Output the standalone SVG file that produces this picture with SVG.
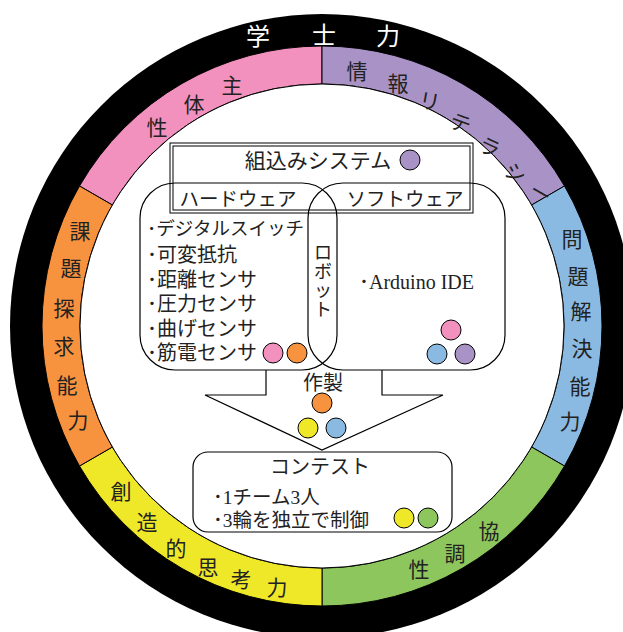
<svg xmlns="http://www.w3.org/2000/svg" width="623" height="632" viewBox="0 0 623 632">
<style>
.seg{stroke:#000;stroke-width:1}
.rc{font-family:"Noto Sans CJK JP",sans-serif;font-size:21px;fill:#222;text-anchor:middle;dominant-baseline:central}
.t{font-family:"Liberation Serif","Noto Sans CJK JP",serif;font-size:19px;fill:#222}
.tc{text-anchor:middle}
.li{font-size:20px}
.ln{fill:none;stroke:#000;stroke-width:1.2}
.dot{stroke:#000;stroke-width:1}
</style>
<rect width="623" height="632" fill="#fff"/>
<g id="ring">
<circle cx="322" cy="326" r="312" fill="#000"/>
<g id="title"><text class="rc" x="258" y="34" style="fill:#fff;font-size:24px">学</text><text class="rc" x="324" y="33" style="fill:#fff;font-size:24px">士</text><text class="rc" x="388" y="34" style="fill:#fff;font-size:24px">力</text></g>
<path class="seg" fill="#F291BE" d="M79.51,186 A280,280 0 0 1 322,46 L322,84 A242,242 0 0 0 112.42,205 Z"/>
<path class="seg" fill="#A992C5" d="M322,46 A280,280 0 0 1 564.49,186 L531.58,205 A242,242 0 0 0 322,84 Z"/>
<path class="seg" fill="#8ABAE1" d="M564.49,186 A280,280 0 0 1 564.49,466 L531.58,447 A242,242 0 0 0 531.58,205 Z"/>
<path class="seg" fill="#8CC65C" d="M564.49,466 A280,280 0 0 1 322,606 L322,568 A242,242 0 0 0 531.58,447 Z"/>
<path class="seg" fill="#EFE829" d="M322,606 A280,280 0 0 1 79.51,466 L112.42,447 A242,242 0 0 0 322,568 Z"/>
<path class="seg" fill="#F7923F" d="M79.51,466 A280,280 0 0 1 79.51,186 L112.42,205 A242,242 0 0 0 112.42,447 Z"/>
<circle cx="322" cy="326" r="242" fill="#fff" stroke="#000" stroke-width="1"/>
</g>
<g id="seg-pink"><text class="rc" x="157" y="126">性</text><text class="rc" x="194" y="103">体</text><text class="rc" x="232" y="84">主</text></g>
<g id="seg-purple"><text class="rc" x="357" y="70">情</text><text class="rc" x="398" y="82">報</text><text class="rc" x="430" y="100" transform="rotate(10 430 100)">リ</text><text class="rc" x="461" y="122" transform="rotate(20 461 122)">テ</text><text class="rc" x="490" y="146" transform="rotate(25 490 146)">ラ</text><text class="rc" x="516" y="172" transform="rotate(30 516 172)">シ</text><text class="rc" x="541" y="192" transform="rotate(30 541 192)">ー</text></g>
<g id="seg-blue"><text class="rc" x="572" y="238">問</text><text class="rc" x="578" y="275">題</text><text class="rc" x="581" y="310">解</text><text class="rc" x="582" y="347">決</text><text class="rc" x="580" y="385">能</text><text class="rc" x="570" y="420">力</text></g>
<g id="seg-orange"><text class="rc" x="80" y="230">課</text><text class="rc" x="71" y="267">題</text><text class="rc" x="64" y="307">探</text><text class="rc" x="64" y="345">求</text><text class="rc" x="67" y="384">能</text><text class="rc" x="78" y="419">力</text></g>
<g id="seg-yellow"><text class="rc" x="121" y="490">創</text><text class="rc" x="147" y="521">造</text><text class="rc" x="176" y="547">的</text><text class="rc" x="208" y="566">思</text><text class="rc" x="241" y="578">考</text><text class="rc" x="277" y="586">力</text></g>
<g id="seg-green"><text class="rc" x="489" y="530">協</text><text class="rc" x="455" y="552">調</text><text class="rc" x="419" y="568">性</text></g>
<g id="connectors">
<polygon points="266,370 266,395 205,395 322,450 443,395 382,395 382,370" fill="#fff" stroke="none"/>
<polyline id="arrow" points="266,370 266,395 205,395 322,450 443,395 382,395 382,370" fill="none" stroke="#000" stroke-width="1.2"/>
</g>
<g id="embedded">
<rect x="170" y="143" width="303" height="70" fill="#fff" stroke="#000" stroke-width="1"/>
<rect x="173" y="146" width="297" height="64" fill="none" stroke="#000" stroke-width="1"/>
<text class="t tc" x="318" y="168" style="font-size:21px">組込みシステム</text>
<circle class="dot" cx="410" cy="160" r="10" fill="#A992C5"/>
</g>
<g id="hardware">
<rect class="ln" x="140" y="183" width="197" height="187" rx="35" ry="35"/>
<text class="t tc" x="238" y="206" style="font-size:19.5px">ハードウェア</text>
<text class="t" x="147" y="235" style="font-size:18.5px">･デジタルスイッチ</text>
<text class="t li" x="147" y="262">･可変抵抗</text>
<text class="t li" x="147" y="287">･距離センサ</text>
<text class="t li" x="147" y="311">･圧力センサ</text>
<text class="t li" x="147" y="336">･曲げセンサ</text>
<text class="t li" x="147" y="360">･筋電センサ</text>
<circle class="dot" cx="273" cy="353" r="10" fill="#F291BE"/>
<circle class="dot" cx="297" cy="353" r="10" fill="#F7923F"/>
</g>
<g id="software">
<rect class="ln" x="308" y="183" width="197" height="187" rx="35" ry="35"/>
<text class="t tc" x="405" y="206" style="font-size:19.5px">ソフトウェア</text>
<text class="t" x="359" y="289" style="font-size:20px">･Arduino IDE</text>
<circle class="dot" cx="451" cy="330" r="10" fill="#F291BE"/>
<circle class="dot" cx="437" cy="354" r="10" fill="#8ABAE1"/>
<circle class="dot" cx="465" cy="354" r="10" fill="#A992C5"/>
</g>
<g id="robot">
<text class="t tc" x="323" y="259" style="font-size:18px">ロ</text>
<text class="t tc" x="323" y="278" style="font-size:18px">ボ</text>
<text class="t tc" x="323" y="297" style="font-size:18px">ッ</text>
<text class="t tc" x="323" y="316" style="font-size:18px">ト</text>
</g>
<g id="make">
<text class="t tc" x="323" y="390" style="font-size:20px">作製</text>
<circle class="dot" cx="322" cy="403" r="10" fill="#F7923F"/>
<circle class="dot" cx="308" cy="428" r="10" fill="#EFE829"/>
<circle class="dot" cx="336" cy="428" r="10" fill="#8ABAE1"/>
</g>
<g id="contest">
<rect x="193" y="452" width="259" height="80" rx="15" ry="15" fill="#fff" stroke="#000" stroke-width="1.2"/>
<text class="t tc" x="320" y="474" style="font-size:20px">コンテスト</text>
<text class="t" x="213" y="504" style="font-size:19.5px">･1チーム3人</text>
<text class="t" x="213" y="527" style="font-size:19.5px">･3輪を独立で制御</text>
<circle class="dot" cx="404" cy="518" r="10" fill="#EFE829"/>
<circle class="dot" cx="428" cy="518" r="10" fill="#8CC65C"/>
</g>
</svg>
